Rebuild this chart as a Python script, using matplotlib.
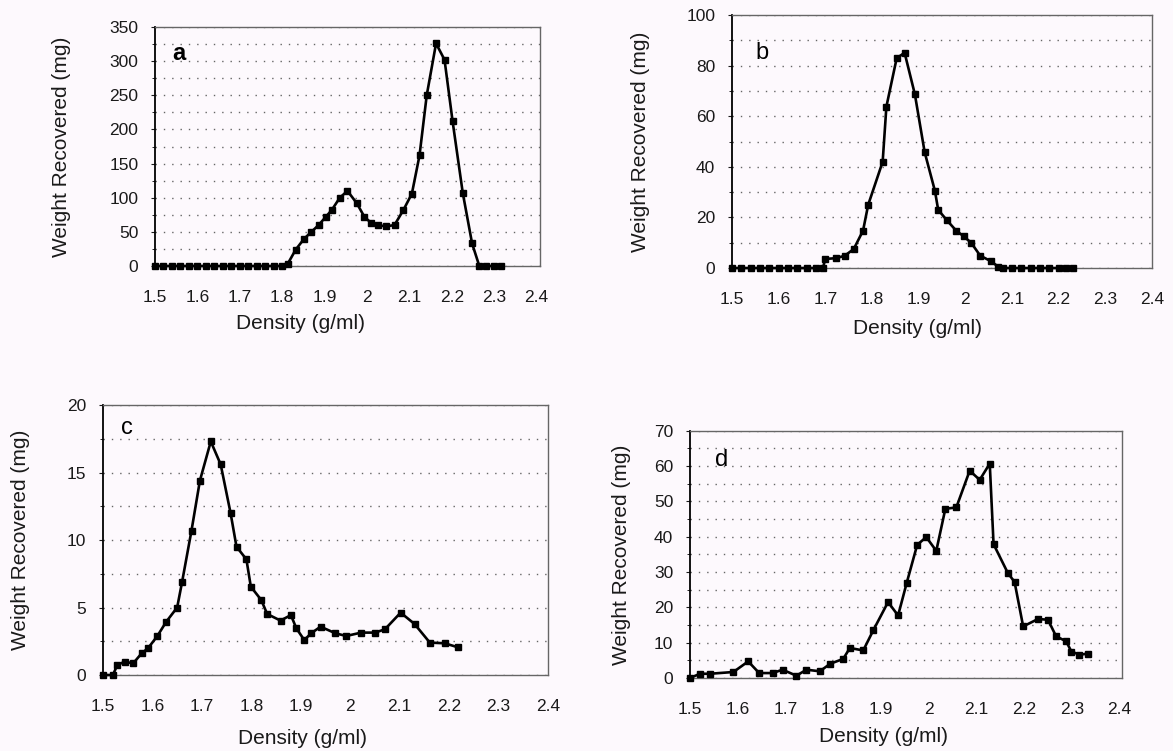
import matplotlib
matplotlib.use("Agg")
import matplotlib.pyplot as plt
from matplotlib.ticker import MultipleLocator, FuncFormatter

plt.rcParams['font.family'] = ['Liberation Sans', 'DejaVu Sans']

# panel a
a_x = [1.50, 1.52, 1.54, 1.56, 1.58, 1.60, 1.62, 1.64, 1.66, 1.68, 1.70, 1.72,
       1.74, 1.76, 1.78, 1.80, 1.813, 1.832, 1.852, 1.869, 1.886, 1.903, 1.917,
       1.936, 1.954, 1.976, 1.994, 2.010, 2.025, 2.045, 2.065, 2.086, 2.106,
       2.124, 2.141, 2.163, 2.183, 2.202, 2.226, 2.248, 2.265, 2.28, 2.30, 2.317]
a_y = [0, 0, 0, 0, 0, 0, 0, 0, 0, 0, 0, 0,
       0, 0, 0, 0, 3, 24, 40, 50, 60, 72, 82,
       100, 110, 92, 72, 63, 60, 58, 60, 82, 106,
       162, 250, 326, 302, 212, 107, 33, 0, 0, 0, 0]

# panel b
b_x = [1.50, 1.52, 1.54, 1.56, 1.58, 1.60, 1.62, 1.64, 1.66, 1.68, 1.695,
       1.70, 1.724, 1.742, 1.761, 1.781, 1.792, 1.823, 1.831, 1.853, 1.870,
       1.892, 1.913, 1.935, 1.942, 1.961, 1.981, 1.997, 2.013, 2.032, 2.056,
       2.07, 2.081, 2.10, 2.12, 2.14, 2.16, 2.18, 2.20, 2.215, 2.23]
b_y = [0, 0, 0, 0, 0, 0, 0, 0, 0, 0, 0,
       3.6, 3.9, 4.9, 7.5, 14.8, 25, 42, 63.8, 82.9, 85.1,
       68.7, 45.8, 30.5, 23, 18.8, 14.7, 12.5, 9.9, 4.9, 2.6,
       0.6, 0, 0, 0, 0, 0, 0, 0, 0, 0]

# panel c
c_x = [1.500, 1.520, 1.529, 1.544, 1.561, 1.578, 1.591, 1.610, 1.628, 1.650,
       1.660, 1.679, 1.696, 1.718, 1.738, 1.758, 1.770, 1.790, 1.799, 1.820,
       1.832, 1.859, 1.880, 1.891, 1.907, 1.921, 1.940, 1.970, 1.992, 2.022,
       2.050, 2.070, 2.102, 2.130, 2.161, 2.191, 2.218]
c_y = [0, 0, 0.74, 0.99, 0.86, 1.6, 1.98, 2.89, 3.95, 5.0,
       6.9, 10.7, 14.4, 17.3, 15.6, 12.0, 9.5, 8.57, 6.54, 5.56,
       4.52, 4.03, 4.44, 3.46, 2.59, 3.09, 3.58, 3.09, 2.89, 3.14,
       3.14, 3.38, 4.62, 3.78, 2.4, 2.35, 2.05]

# panel d
d_x = [1.500, 1.521, 1.542, 1.591, 1.622, 1.645, 1.673, 1.694, 1.723, 1.744,
       1.772, 1.794, 1.821, 1.835, 1.863, 1.884, 1.915, 1.936, 1.954, 1.976,
       1.995, 2.016, 2.035, 2.058, 2.086, 2.107, 2.128, 2.136, 2.166, 2.180,
       2.198, 2.229, 2.250, 2.267, 2.288, 2.299, 2.316, 2.334]
d_y = [0, 1.2, 1.2, 1.7, 4.7, 1.4, 1.4, 2.35, 0.65, 2.35,
       1.9, 4.05, 5.4, 8.5, 7.8, 13.5, 21.5, 17.7, 26.9, 37.7,
       39.9, 36.0, 47.9, 48.3, 58.7, 56.1, 60.7, 37.9, 29.7, 27.2,
       14.6, 16.7, 16.5, 11.8, 10.4, 7.5, 6.6, 6.9]

x_ticks = [1.5, 1.6, 1.7, 1.8, 1.9, 2.0, 2.1, 2.2, 2.3, 2.4]

# data, rect, ymax, major, minor, letter, letter pos, ylabel x, xlabel x, xmax, weight
panels = [
    (a_x, a_y, [0.1321, 0.6458, 0.3282, 0.3182], 350, 50, 25, 'a', (0.062, 0.89), -0.218, 0.379, 2.408, 'bold'),
    (b_x, b_y, [0.6240, 0.6431, 0.3580, 0.3369], 100, 20, 10, 'b', (0.071, 0.85), -0.195, 0.443, 2.4, 'normal'),
    (c_x, c_y, [0.0878, 0.1012, 0.3794, 0.3595], 20, 5, 2.5, 'c', (0.053, 0.914), -0.164, 0.449, 2.4, 'normal'),
    (d_x, d_y, [0.5882, 0.0972, 0.3683, 0.3292], 70, 10, 5, 'd', (0.073, 0.883), -0.137, 0.447, 2.405, 'normal'),
]

fig = plt.figure(figsize=(11.73, 7.51), dpi=100)
fig.patch.set_facecolor('#fdf9fd')

for xs, ys, rect, ymax, major, minor, letter, lpos, ylx, xlx, xmax, lw in panels:
    ax = fig.add_axes(rect)
    ax.set_facecolor('#fdf9fd')
    ax.plot(xs, ys, color='black', lw=1.9, marker='s', ms=4.8, clip_on=False, zorder=3)
    ax.set_xlim(1.5, xmax)
    ax.set_ylim(0, ymax)
    ax.set_xticks(x_ticks)
    ax.xaxis.set_major_formatter(FuncFormatter(lambda v, p: f'{v:g}'))
    ax.yaxis.set_major_locator(MultipleLocator(major))
    ax.yaxis.set_minor_locator(MultipleLocator(minor))
    ax.yaxis.grid(True, which='both', linestyle=(0, (1, 5)), color='0.4', lw=1.0)
    ax.set_axisbelow(True)
    ax.tick_params(axis='x', length=0, pad=17, labelsize=12.5, colors='0.1')
    ax.tick_params(axis='y', which='major', length=3, pad=9, labelsize=12.5, colors='0.1')
    ax.tick_params(axis='y', which='minor', length=2)
    for side in ['top', 'right', 'bottom']:
        ax.spines[side].set_color('0.4')
        ax.spines[side].set_linewidth(1.0)
    ax.spines['left'].set_color('black')
    ax.spines['left'].set_linewidth(1.3)
    ax.set_ylabel('Weight Recovered (mg)', fontsize=15, color='0.1')
    ax.set_xlabel('Density (g/ml)', fontsize=15, color='0.1')
    ax.yaxis.set_label_coords(ylx, 0.5)
    ax.xaxis.set_label_coords(xlx, -0.2)
    ax.text(lpos[0], lpos[1], letter, transform=ax.transAxes, fontsize=17,
            fontweight=lw, ha='center', va='center')

fig.savefig('out.png', dpi=100, facecolor=fig.get_facecolor())
